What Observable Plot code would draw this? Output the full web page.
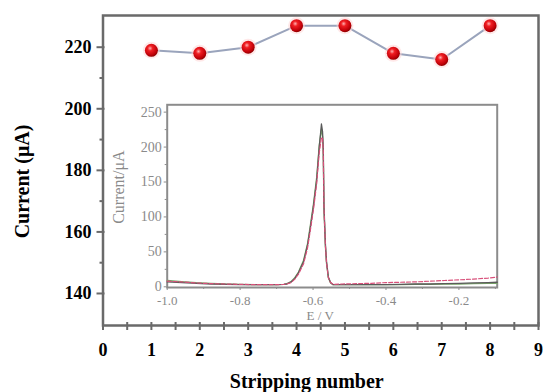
<!DOCTYPE html>
<html><head><meta charset="utf-8">
<script src="https://cdn.jsdelivr.net/npm/d3@7"></script>
<script src="https://cdn.jsdelivr.net/npm/@observablehq/plot@0.6"></script>
<style>
html,body{margin:0;padding:0;background:#fff;}
#wrap{position:relative;width:547px;height:392px;}
#wrap svg{position:absolute;left:0;top:0;}
</style></head><body><div id="wrap"></div>
<script>
// Main series
const strippingNumber = [1, 2, 3, 4, 5, 6, 7, 8];
const currentUA = [219, 218, 220, 227, 227, 218, 216, 227];
const xTicks = [0, 1, 2, 3, 4, 5, 6, 7, 8, 9];
const xMinorTicks = [0.5, 1.5, 2.5, 3.5, 4.5, 5.5, 6.5, 7.5, 8.5];
const yTicks = [140, 160, 180, 200, 220];
const yMinorTicks = [150, 170, 190, 210];

// Inset stripping voltammograms
const insetE = [-1.0, -0.96, -0.92, -0.88, -0.84, -0.8, -0.75, -0.7, -0.68, -0.672,
  -0.66, -0.65, -0.64, -0.626, -0.615, -0.608, -0.599, -0.59, -0.583, -0.577,
  -0.574, -0.572, -0.570, -0.566, -0.563, -0.558, -0.552, -0.545, -0.52, -0.48,
  -0.44, -0.4, -0.36, -0.32, -0.28, -0.24, -0.2, -0.16, -0.12, -0.095];
const insetGray = [7, 6, 5, 4, 3.5, 3, 3, 3, 3.5, 4,
  7, 12, 20, 36, 60, 83, 115, 153, 200, 233,
  222, 200, 115, 60, 36, 14, 6, 3, 3, 3,
  3, 3, 3.5, 4, 4, 4.5, 5, 5.5, 6, 6.5];
const insetRed = [8, 7, 5.5, 4.5, 4, 3.5, 3, 3, 3.5, 4,
  6, 11, 18, 33, 56, 79, 110, 148, 192, 214,
  212, 195, 112, 58, 34, 13, 6, 3.5, 4, 4.5,
  5, 6, 6.5, 7, 8, 9, 10, 11, 12.5, 14];
const insetGreen = [9, 7.5, 6, 5, 4, 3.5, 3, 3, 3.5, 4.5,
  7.5, 13, 21, 38, 62, 86, 118, 157, 203, 226,
  215, 190, 108, 56, 33, 13, 5.5, 3, 3, 3,
  3, 3, 3, 3.5, 3.5, 4, 4, 4.5, 5, 5];
const insetXTicks = [-1.0, -0.8, -0.6, -0.4, -0.2];
const insetXMinor = [-0.9, -0.7, -0.5, -0.3, -0.1];
const insetYTicks = [0, 50, 100, 150, 200, 250];
const insetYMinor = [25, 75, 125, 175, 225];

const serif = "'Liberation Serif', 'Times New Roman', serif";
const axisGray = "#6a6a6a";

const main = Plot.plot({
  width: 547, height: 392,
  marginLeft: 102.5, marginRight: 9, marginTop: 15, marginBottom: 67,
  style: {fontFamily: serif, background: "white"},
  x: {domain: [0, 9]},
  y: {domain: [129.6, 230.3]},
  marks: [
    Plot.frame({stroke: axisGray, strokeWidth: 2.5}),
    Plot.axisX({ticks: xTicks, tickSize: 5, tickPadding: 13, stroke: axisGray, strokeWidth: 2,
      fill: "black", fontSize: 18, fontWeight: "bold", tickFormat: d => String(d), label: null}),
    Plot.axisX({ticks: xTicks, tickSize: -3, text: null, stroke: axisGray, strokeWidth: 2, label: null}),
    Plot.axisX({ticks: xMinorTicks, tickSize: 5, text: null, stroke: axisGray, strokeWidth: 2, label: null}),
    Plot.axisX({ticks: xMinorTicks, tickSize: -3, text: null, stroke: axisGray, strokeWidth: 2, label: null}),
    Plot.axisY({ticks: yTicks, tickSize: 6, tickPadding: 5.5, stroke: axisGray, strokeWidth: 2,
      fill: "black", fontSize: 18, fontWeight: "bold", tickFormat: d => String(d), label: null}),
    Plot.axisY({ticks: yTicks, tickSize: -2, text: null, stroke: axisGray, strokeWidth: 2, label: null}),
    Plot.axisY({ticks: yMinorTicks, tickSize: 3, text: null, stroke: axisGray, strokeWidth: 2, label: null}),
    Plot.text(["Current (μA)"], {frameAnchor: "left", text: d => d, rotate: -90, dx: -80.5, dy: 11,
      textAnchor: "middle", lineAnchor: "middle", fontSize: 20, fontWeight: "bold", fill: "black"}),
    Plot.text(["Stripping number"], {frameAnchor: "bottom", text: d => d, dx: -14, dy: 56,
      textAnchor: "middle", lineAnchor: "middle", fontSize: 20, fontWeight: "bold", fill: "black"}),
    Plot.line(strippingNumber, {x: d => d, y: currentUA, stroke: "#9aa4bc", strokeWidth: 2}),
    Plot.dot(strippingNumber, {x: d => d, y: currentUA, r: 8.5, fill: "#ffd6d6", fillOpacity: 0.55, stroke: "none"}),
    Plot.dot(strippingNumber, {x: d => d, y: currentUA, r: 6.5, fill: "url(#ball)", stroke: "none"})
  ]
});

// gradient definition for the spherical markers
const ns = "http://www.w3.org/2000/svg";
const defs = document.createElementNS(ns, "defs");
const grad = document.createElementNS(ns, "radialGradient");
grad.setAttribute("id", "ball");
grad.setAttribute("cx", "0.4"); grad.setAttribute("cy", "0.35"); grad.setAttribute("r", "0.65");
[["0", "#ffb0b0"], ["0.3", "#f01e22"], ["0.8", "#c00008"], ["1", "#900000"]].forEach(([o, c]) => {
  const s = document.createElementNS(ns, "stop");
  s.setAttribute("offset", o); s.setAttribute("stop-color", c); grad.appendChild(s);
});
defs.appendChild(grad);
main.insertBefore(defs, main.firstChild);

const insetGrayText = "#8a8a8a";
const insetLine = "#8c8c8c";
const inset = Plot.plot({
  width: 547, height: 392,
  marginLeft: 166.7, marginRight: 50.3, marginTop: 104.3, marginBottom: 105,
  style: {fontFamily: serif, background: "transparent"},
  x: {domain: [-1.0, -0.095]},
  y: {domain: [-1, 260.5]},
  marks: [
    Plot.frame({fill: "white", stroke: insetLine, strokeWidth: 2}),
    Plot.axisX({ticks: insetXTicks, tickSize: 3, tickPadding: 5.5, stroke: insetLine, fill: insetGrayText,
      fontSize: 13, tickFormat: d => d.toFixed(1), label: null}),
    Plot.axisX({ticks: insetXMinor, tickSize: 2, text: null, stroke: insetLine, label: null}),
    Plot.axisY({ticks: insetYTicks, tickSize: 3, tickPadding: 2.5, stroke: insetLine, fill: insetGrayText,
      fontSize: 14, tickFormat: d => String(d), label: null}),
    Plot.axisY({ticks: insetYMinor, tickSize: 2, text: null, stroke: insetLine, label: null}),
    Plot.text(["E / V"], {frameAnchor: "bottom", text: d => d, dx: -12, dy: 28,
      textAnchor: "middle", lineAnchor: "middle", fontSize: 13, fill: insetGrayText}),
    Plot.text(["Current/μA"], {frameAnchor: "left", text: d => d, rotate: -90, dx: -48, dy: -9,
      textAnchor: "middle", lineAnchor: "middle", fontSize: 16, fill: insetGrayText}),
    Plot.line(insetE, {x: d => d, y: insetGreen, stroke: "#7aa86a", strokeWidth: 1.3}),
    Plot.line(insetE, {x: d => d, y: insetGray, stroke: "#5a5a5a", strokeWidth: 1.3}),
    Plot.line(insetE, {x: d => d, y: insetRed, stroke: "#d8507a", strokeWidth: 1.2, strokeDasharray: "4,2"})
  ]
});

const wrap = document.getElementById("wrap");
wrap.appendChild(main);
wrap.appendChild(inset);
</script></body></html>
